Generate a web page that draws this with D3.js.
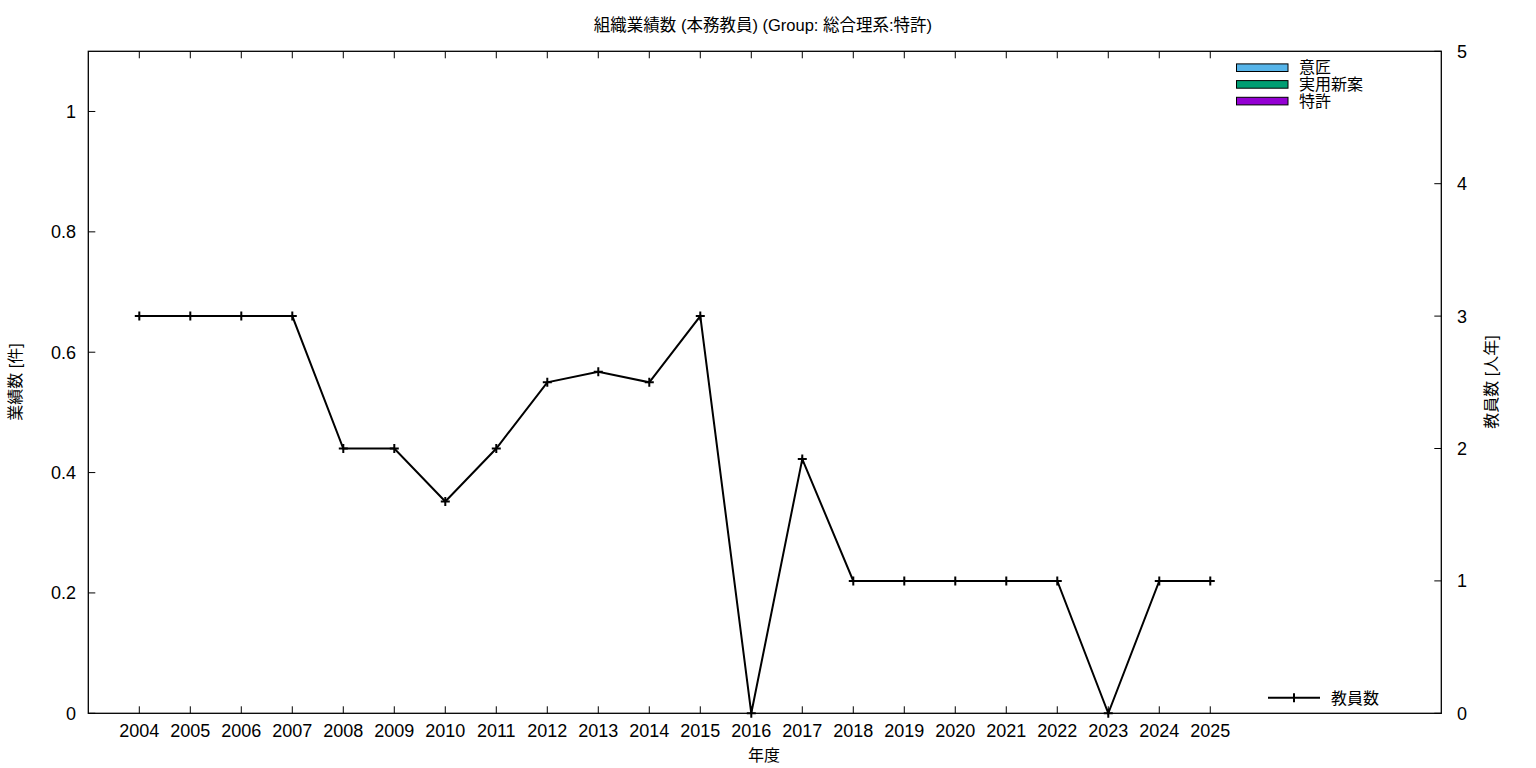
<!DOCTYPE html>
<html><head><meta charset="utf-8">
<script src="https://cdn.jsdelivr.net/npm/d3@7"></script>
<style>body{margin:0;background:#fff}svg{display:block}text{font-family:"Liberation Sans","Noto Sans CJK JP",sans-serif;fill:#000}</style>
</head><body><svg id="c" width="1536" height="768"></svg>
<script>
const years = ["2004","2005","2006","2007","2008","2009","2010","2011","2012","2013","2014","2015","2016","2017","2018","2019","2020","2021","2022","2023","2024","2025"];
const ishou = [0,0,0,0,0,0,0,0,0,0,0,0,0,0,0,0,0,0,0,0,0,0];
const jitsuyou = [0,0,0,0,0,0,0,0,0,0,0,0,0,0,0,0,0,0,0,0,0,0];
const tokkyo = [0,0,0,0,0,0,0,0,0,0,0,0,0,0,0,0,0,0,0,0,0,0];
const faculty = [3,3,3,3,2,2,1.6,2,2.5,2.58,2.5,3,0,1.92,1,1,1,1,1,0,1,1];
const leftTicks = [0,0.2,0.4,0.6,0.8,1];
const rightTicks = [0,1,2,3,4,5];
const seriesNames = ["特許","実用新案","意匠"];
const seriesColors = ["#9400d3","#009e73","#56b4e9"];

const svg = d3.select("#c");
const L=88.3, R=1441.3, T=51.3, B=713.3;
const x = d3.scaleLinear().domain([-1,25.53]).range([L,R]);
const yL = d3.scaleLinear().domain([0,1.1]).range([B,T]);
const yR = d3.scaleLinear().domain([0,5]).range([B,T]);

// stacked bars (all zero)
const stackData = years.map((y,i)=>({y, "特許":tokkyo[i], "実用新案":jitsuyou[i], "意匠":ishou[i]}));
const stacked = d3.stack().keys(seriesNames)(stackData);
stacked.forEach((s,k)=>{
  svg.append("g").selectAll("rect").data(s).join("rect")
    .attr("x",(d,i)=>x(i-0.375)).attr("width",x(0.75)-x(0))
    .attr("y",d=>yL(d[1])).attr("height",d=>yL(d[0])-yL(d[1]))
    .attr("fill",seriesColors[k]).attr("stroke","#000").attr("stroke-width",d=>d[1]>d[0]?1:0);
});

// border
svg.append("rect").attr("x",L).attr("y",T).attr("width",R-L).attr("height",B-T)
  .attr("fill","none").attr("stroke","#000").attr("stroke-width",1.3);

const tl=7;
const gx = svg.append("g");
years.forEach((yv,i)=>{
  const px = x(i);
  gx.append("line").attr("x1",px).attr("x2",px).attr("y1",B).attr("y2",B-tl).attr("stroke","#000");
  gx.append("line").attr("x1",px).attr("x2",px).attr("y1",T).attr("y2",T+tl).attr("stroke","#000");
  gx.append("text").attr("x",px).attr("y",737).attr("text-anchor","middle").attr("font-size",18).text(yv);
});
leftTicks.forEach(v=>{
  const py=yL(v);
  svg.append("line").attr("x1",L).attr("x2",L+tl).attr("y1",py).attr("y2",py).attr("stroke","#000");
  svg.append("text").attr("x",76).attr("y",py+6.5).attr("text-anchor","end").attr("font-size",18).text(v===0||v===1?String(v):v.toFixed(1));
});
rightTicks.forEach(v=>{
  const py=yR(v);
  svg.append("line").attr("x1",R).attr("x2",R-tl).attr("y1",py).attr("y2",py).attr("stroke","#000");
  svg.append("text").attr("x",1457).attr("y",py+6.5).attr("text-anchor","start").attr("font-size",18).text(v);
});

const line = d3.line().x((d,i)=>x(i)).y(d=>yR(d));
svg.append("path").datum(faculty).attr("d",line).attr("fill","none").attr("stroke","#000").attr("stroke-width",2);
const ms=4.5;
svg.append("g").selectAll("path").data(faculty).join("path")
  .attr("d",(d,i)=>{const cx=x(i),cy=yR(d);return `M${cx-ms},${cy}H${cx+ms}M${cx},${cy-ms}V${cy+ms}`;})
  .attr("stroke","#000").attr("stroke-width",2);

svg.append("text").attr("x",763).attr("y",31).attr("text-anchor","middle").attr("font-size",16.5).text("組織業績数 (本務教員) (Group: 総合理系:特許)");
svg.append("text").attr("x",764).attr("y",761).attr("text-anchor","middle").attr("font-size",16).text("年度");
svg.append("text").attr("transform","translate(21,382) rotate(-90)").attr("text-anchor","middle").attr("font-size",16).text("業績数 [件]");
svg.append("text").attr("transform","translate(1497,382) rotate(-90)").attr("text-anchor","middle").attr("font-size",16).text("教員数 [人年]");

const legNames = ["意匠","実用新案","特許"];
const legColors = ["#56b4e9","#009e73","#9400d3"];
legNames.forEach((n,i)=>{
  const cy = 67.7 + i*16.7;
  svg.append("rect").attr("x",1236.5).attr("y",cy-3.8).attr("width",51.5).attr("height",7.6)
    .attr("fill",legColors[i]).attr("stroke","#000").attr("stroke-width",1);
  svg.append("text").attr("x",1299).attr("y",cy+5.5).attr("font-size",16).text(n);
});
svg.append("line").attr("x1",1268).attr("x2",1320).attr("y1",697.7).attr("y2",697.7).attr("stroke","#000").attr("stroke-width",2);
svg.append("path").attr("d",`M1294,${697.7-ms}V${697.7+ms}`).attr("stroke","#000").attr("stroke-width",2);
svg.append("text").attr("x",1331).attr("y",703.5).attr("font-size",16).text("教員数");
</script></body></html>
